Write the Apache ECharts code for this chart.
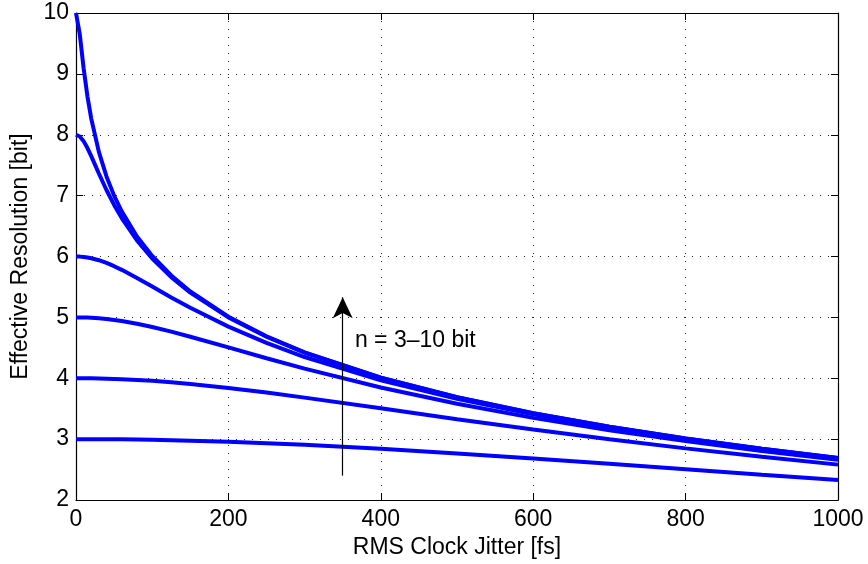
<!DOCTYPE html>
<html><head><meta charset="utf-8">
<script src="https://cdn.jsdelivr.net/npm/echarts@6.0.0/dist/echarts.min.js"></script>
<style>html,body{margin:0;padding:0;background:#fff}#c{width:868px;height:564px}</style>
</head><body><div id="c"></div>
<script>
// RMS clock jitter [fs]
const jitterFs = [0,5,10,15,20,30,40,50,60,80,100,125,150,200,250,300,400,500,600,700,800,900,1000];
// Effective resolution [bit] for converter resolutions n
const res10 = [10,9.648,9.092,8.631,8.265,7.718,7.316,7.000,6.741,6.329,6.009,5.688,5.425,5.011,4.689,4.426,4.011,3.690,3.427,3.204,3.012,2.842,2.690];
const res8  = [8,7.972,7.895,7.781,7.648,7.363,7.092,6.848,6.631,6.265,5.967,5.661,5.407,5.000,4.682,4.422,4.009,3.688,3.425,3.203,3.011,2.841,2.689];
const res6  = [6,5.998,5.993,5.984,5.972,5.939,5.894,5.841,5.781,5.648,5.506,5.328,5.158,4.848,4.581,4.349,3.967,3.661,3.407,3.189,3.000,2.833,2.682];
const res5  = [5,5.000,4.998,4.996,4.993,4.984,4.972,4.957,4.939,4.894,4.841,4.765,4.682,4.506,4.328,4.158,3.848,3.581,3.349,3.147,2.967,2.806,2.661];
const res4  = [4,4.000,4.000,3.999,3.998,3.996,3.993,3.989,3.984,3.972,3.957,3.934,3.906,3.841,3.765,3.682,3.506,3.328,3.158,2.998,2.848,2.710,2.581];
const res3  = [3,3.000,3.000,3.000,3.000,2.999,2.998,2.997,2.996,2.993,2.989,2.983,2.975,2.957,2.934,2.906,2.841,2.765,2.682,2.595,2.506,2.416,2.328];
const allSeries = [res3, res4, res5, res6, res8, res10];
// Axis ticks
const xTicks = [0,200,400,600,800,1000];
const yTicks = [2,3,4,5,6,7,8,9,10];
// Annotation
const arrowStart = [350, 2.4];
const arrowEnd = [350, 5.33];
const annotText = 'n = 3\u201310 bit';
const annotPos = [366, 4.62];

const FONT = 'Liberation Sans, Arial, Helvetica, sans-serif';
const FS = 23;
const chart = echarts.init(document.getElementById('c'), null, {renderer:'canvas'});
const gridLine = {show:true, lineStyle:{color:'#222', width:1, type:[1,7]}};
const tick = {show:true, inside:true, length:7, lineStyle:{color:'#000', width:1}};
const axLine = {show:true, onZero:false, lineStyle:{color:'#000', width:1.2}};

const lineSeries = allSeries.map(arr => ({
  type:'line',
  data: jitterFs.map((x,i)=>[x, arr[i]]),
  showSymbol:false, symbol:'none',
  lineStyle:{color:'#0000ff', width:4},
  itemStyle:{color:'#0000ff'},
  smooth:false,
  z:3
}));

chart.setOption({
  animation:false,
  backgroundColor:'#fff',
  grid:{left:76, right:30, top:13, bottom:63, containLabel:false},
  xAxis:[
    {type:'value', min:xTicks[0], max:xTicks[xTicks.length-1], interval:200, position:'bottom',
     name:'RMS Clock Jitter [fs]', nameLocation:'middle', nameGap:36,
     nameTextStyle:{fontFamily:FONT, fontSize:FS, color:'#000'},
     axisLine:axLine, axisTick:tick, splitLine:gridLine,
     axisLabel:{fontFamily:FONT, fontSize:FS, color:'#000', margin:8, formatter:v=>String(v)}},
    {type:'value', min:xTicks[0], max:xTicks[xTicks.length-1], interval:200, position:'top',
     axisLine:axLine, axisTick:tick, splitLine:{show:false}, axisLabel:{show:false}}
  ],
  yAxis:[
    {type:'value', min:yTicks[0], max:yTicks[yTicks.length-1], interval:1, position:'left',
     name:'Effective Resolution [bit]', nameLocation:'middle', nameGap:39,
     nameTextStyle:{fontFamily:FONT, fontSize:FS, color:'#000'},
     axisLine:axLine, axisTick:tick, splitLine:gridLine,
     axisLabel:{fontFamily:FONT, fontSize:FS, color:'#000', margin:7, formatter:v=>String(v)}},
    {type:'value', min:yTicks[0], max:yTicks[yTicks.length-1], interval:1, position:'right',
     axisLine:axLine, axisTick:tick, splitLine:{show:false}, axisLabel:{show:false}}
  ],
  series: lineSeries.concat([{
    type:'custom',
    data:[annotPos],
    silent:true,
    renderItem:function(params, api){
      const p = api.coord([api.value(0), api.value(1)]);
      return {type:'text', x:p[0], y:p[1],
        style:{text:annotText, fill:'#000', font: FS + 'px ' + FONT,
               align:'left', verticalAlign:'middle'}};
    },
    markLine:{
      silent:true, symbol:['none','arrow'], symbolSize:[15,21],
      label:{show:false},
      lineStyle:{color:'#000', width:1.2, type:'solid'},
      data:[[{coord:arrowStart},{coord:arrowEnd}]]
    },
    z:4
  }])
});
</script>
</body></html>
